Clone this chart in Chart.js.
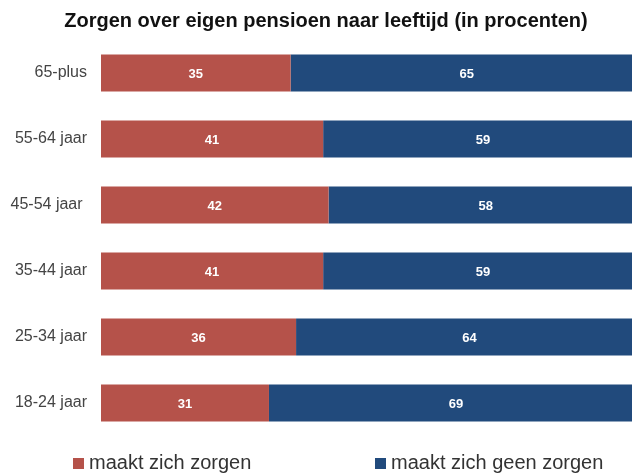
<!DOCTYPE html>
<html><head><meta charset="utf-8">
<script src="https://cdn.jsdelivr.net/npm/chart.js@4/dist/chart.umd.min.js"></script>
<style>html,body{margin:0;padding:0;background:#fff;overflow:hidden}#wrap{width:632px;height:473px}</style>
</head><body><div id="wrap"><canvas id="c" width="632" height="473"></canvas></div>
<script>
const titleText = 'Zorgen over eigen pensioen naar leeftijd (in procenten)';
const categories = ['65-plus', '55-64 jaar', '45-54 jaar ', '35-44 jaar', '25-34 jaar', '18-24 jaar'];
const seriesNames = ['maakt zich zorgen', 'maakt zich geen zorgen'];
const worried = [35, 41, 42, 41, 36, 31];
const notWorried = [65, 59, 58, 59, 64, 69];
const colors = ['#B5524A', '#214A7C'];
const FONT = '"Liberation Sans", Arial, Helvetica, sans-serif';

const titlePlugin = {
  id: 'customTitle',
  afterDraw(chart) {
    const ctx = chart.ctx;
    ctx.save();
    ctx.font = 'bold 20px ' + FONT;
    ctx.fillStyle = '#111';
    ctx.textAlign = 'center';
    ctx.textBaseline = 'middle';
    ctx.fillText(titleText, 326, 21);
    ctx.restore();
  }
};

const labelPlugin = {
  id: 'barLabels',
  afterDatasetsDraw(chart) {
    const ctx = chart.ctx;
    ctx.save();
    ctx.font = 'bold 13px ' + FONT;
    ctx.fillStyle = '#fff';
    ctx.textAlign = 'center';
    ctx.textBaseline = 'middle';
    chart.data.datasets.forEach((ds, i) => {
      const meta = chart.getDatasetMeta(i);
      meta.data.forEach((el, j) => {
        const cx = (el.x + el.base) / 2;
        ctx.fillText(String(ds.data[j]), cx, el.y + 1);
      });
    });
    ctx.restore();
  }
};

const legendPlugin = {
  id: 'customLegend',
  afterDraw(chart) {
    const ctx = chart.ctx;
    const pos = [[73, 89], [375, 391]];
    ctx.save();
    ctx.font = '20px ' + FONT;
    ctx.textBaseline = 'alphabetic';
    ctx.textAlign = 'left';
    chart.data.datasets.forEach((ds, i) => {
      ctx.fillStyle = ds.backgroundColor;
      ctx.fillRect(pos[i][0], 458, 11, 11);
      ctx.fillStyle = '#333';
      ctx.fillText(ds.label, pos[i][1], 469);
    });
    ctx.restore();
  }
};

new Chart(document.getElementById('c'), {
  type: 'bar',
  data: {
    labels: categories,
    datasets: [
      { label: seriesNames[0], data: worried, backgroundColor: colors[0], borderWidth: 0 },
      { label: seriesNames[1], data: notWorried, backgroundColor: colors[1], borderWidth: 0 }
    ]
  },
  options: {
    indexAxis: 'y',
    responsive: false,
    devicePixelRatio: 1,
    animation: false,
    layout: { padding: { top: 40, bottom: 37, left: 0, right: 0 } },
    datasets: { bar: { categoryPercentage: 1, barPercentage: 0.56 } },
    plugins: { legend: { display: false }, title: { display: false }, tooltip: { enabled: false } },
    scales: {
      x: { stacked: true, display: false, min: 0, max: 98 },
      y: {
        stacked: true,
        grid: { display: false, drawTicks: false },
        border: { display: false },
        ticks: { padding: 14, color: '#444', font: { family: FONT, size: 16 } },
        afterFit(scale) { scale.width = 101; }
      }
    }
  },
  plugins: [titlePlugin, labelPlugin, legendPlugin]
});
</script>
</body></html>
